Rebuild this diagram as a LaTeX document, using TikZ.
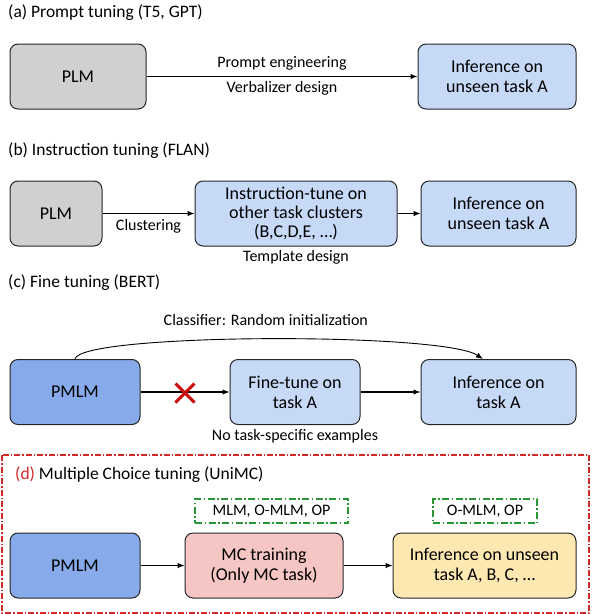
\documentclass[tikz,border=0pt]{standalone}
\usepackage{fontspec}
\setmainfont{Carlito}
\usetikzlibrary{positioning,calc,arrows.meta,shapes.misc}
\definecolor{plmgray}{RGB}{208,208,208}
\definecolor{lightblue}{RGB}{198,218,248}
\definecolor{pmlmblue}{RGB}{134,170,234}
\definecolor{mcpink}{RGB}{245,198,195}
\definecolor{infyellow}{RGB}{254,232,178}
\definecolor{crossred}{RGB}{200,10,10}
\definecolor{framered}{RGB}{210,40,40}
\definecolor{taggreen}{RGB}{40,150,50}
\tikzset{
  box/.style={draw=black!85,line width=1pt,rounded corners=8pt,minimum height=65pt,align=center,font=\fontsize{18}{20}\selectfont},
  lbl/.style={font=\fontsize{16}{18}\selectfont,inner sep=2pt},
  ttl/.style={anchor=west,inner sep=0pt,font=\fontsize{17.5}{20}\selectfont},
  tag/.style={draw=taggreen,line width=1.2pt,dash pattern=on 7pt off 2.5pt on 1.5pt off 2.5pt,minimum height=24pt,font=\fontsize{16}{18}\selectfont},
  arr/.style={-{Latex[length=7pt,width=5.5pt]},line width=1.1pt},
}
\begin{document}
\begin{tikzpicture}[x=1pt,y=-1pt]
	\useasboundingbox (0,0) rectangle (592,614);
	% (a) prompt tuning
	\node[ttl] (ta) at (8,13) {(a) Prompt tuning (T5, GPT)};
	\node[box,fill=plmgray,minimum width=136pt] (plmA) at (78,76.5) {PLM};
	\node[box,fill=lightblue,minimum width=158pt] (infA) at (497,76.5) {Inference on\\unseen task A};
	\draw[arr] (plmA) -- node[lbl,above=4pt]{Prompt engineering} node[lbl,below=2pt]{Verbalizer design} (infA);
	% (b) instruction tuning
	\node[ttl] (tb) at (8,151) {(b) Instruction tuning (FLAN)};
	\node[box,fill=plmgray,minimum width=92pt] (plmB) at (56,213.5) {PLM};
	\node[box,fill=lightblue,minimum width=202pt,inner ysep=1pt,font=\fontsize{18}{19}\selectfont] (instB) at (296,213.5) {Instruction-tune on\\other task clusters\\(B,C,D,E, …)};
	\node[box,fill=lightblue,minimum width=155pt] (infB) at (498.5,213.5) {Inference on\\unseen task A};
	\draw[arr] (plmB) -- node[lbl,below=3pt]{Clustering} (instB);
	\draw[arr] (instB) -- (infB);
	\node[lbl,below=2pt of instB] (tmplB) {Template design};
	% (c) fine tuning
	\node[ttl] (tc) at (8,283) {(c) Fine tuning (BERT)};
	\node[box,fill=pmlmblue,minimum width=130pt] (pmlmC) at (75,392) {PMLM};
	\node[box,fill=lightblue,minimum width=130pt] (fineC) at (295,392) {Fine-tune on\\task A};
	\node[box,fill=lightblue,minimum width=155pt] (infC) at (498.5,392) {Inference on\\task A};
	\draw[arr] (pmlmC) -- (fineC);
	\draw[arr] (fineC) -- (infC);
	\coordinate (clsC) at ($(infC.north west)!0.4!(infC.north east)$);
	\draw[arr,line width=0.9pt] (pmlmC.north) .. controls +(5,-26) and +(-40,-27) .. node[lbl,above=11pt]{Classifier: Random initialization} (clsC);
	\node[cross out,draw=crossred,line width=3pt,minimum size=16pt,inner sep=0pt] (noC) at (185,393) {};
	\node[lbl,below=2pt of fineC] (noexC) {No task-specific examples};
	% (d) multiple choice tuning
	\draw[framered,line width=1.2pt,dash pattern=on 6pt off 2pt on 1.5pt off 2pt] (2,455) rectangle (589,613);
	\node[ttl] (td) at (15,475) {\textcolor{framered}{(d)} Multiple Choice tuning (UniMC)};
	\node[box,fill=pmlmblue,minimum width=130pt] (pmlmD) at (75,565.5) {PMLM};
	\node[box,fill=mcpink,minimum width=158pt] (mcD) at (264,565.5) {MC training\\(Only MC task)};
	\node[box,fill=infyellow,minimum width=183pt] (infD) at (484.5,565.5) {Inference on unseen\\task A, B, C, …};
	\node[tag,minimum width=153pt] (lossD) at (271.5,511) {MLM, O-MLM, OP};
	\node[tag,minimum width=104pt] (testD) at (485,511) {O-MLM, OP};
	\draw[arr] (pmlmD) -- (mcD);
	\draw[arr] (mcD) -- (infD);
\end{tikzpicture}
\end{document}
